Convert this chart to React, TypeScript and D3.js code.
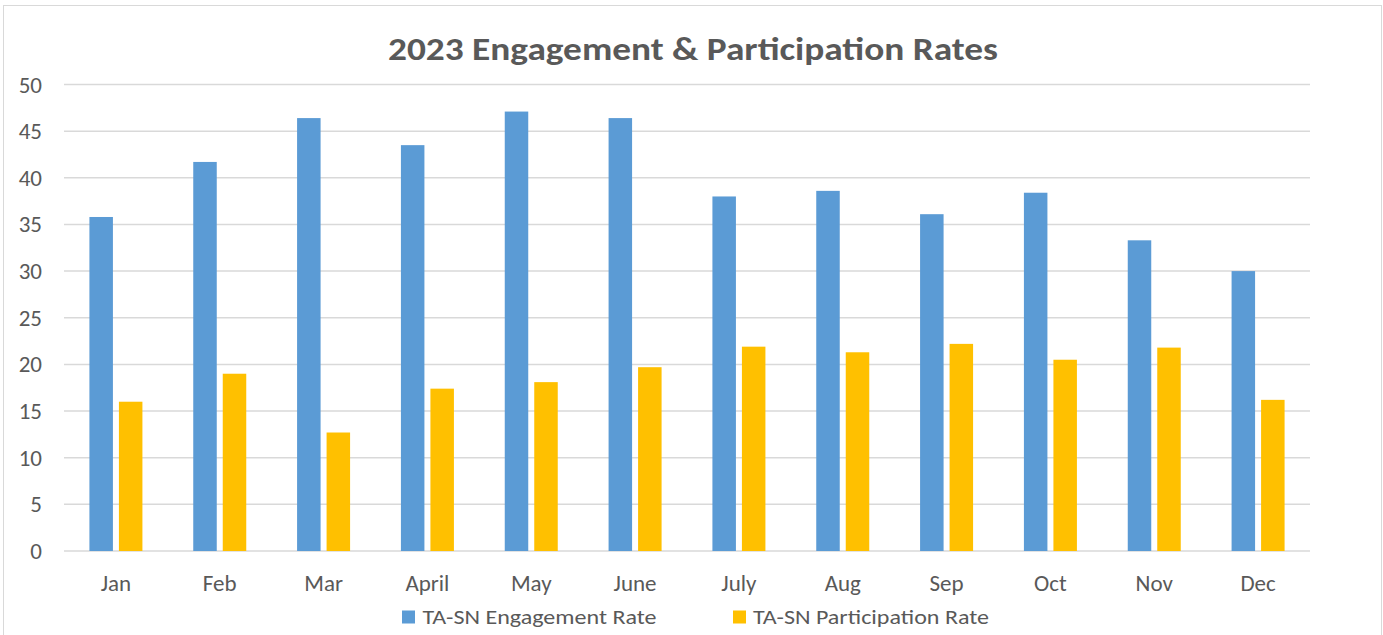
import React from "react";
import * as d3 from "d3";

const months = ["Jan", "Feb", "Mar", "April", "May", "June", "July", "Aug", "Sep", "Oct", "Nov", "Dec"];
const engagement = [35.8, 41.7, 46.4, 43.5, 47.1, 46.4, 38.0, 38.6, 36.1, 38.4, 33.3, 30.0];
const participation = [16.0, 19.0, 12.7, 17.4, 18.1, 19.7, 21.9, 21.3, 22.2, 20.5, 21.8, 16.2];
const yTicks = [0, 5, 10, 15, 20, 25, 30, 35, 40, 45, 50];
const seriesNames = ["TA-SN Engagement Rate", "TA-SN Participation Rate"];
const colors = ["#5B9BD5", "#FFC000"];

const W = 1383;
const H = 635;
const left = 64;
const right = 1310;
const top = 84.5;
const bottom = 551;
const FONT = "Carlito, Calibri, 'Open Sans', 'Liberation Sans', sans-serif";

export default function App() {
  const x = d3.scaleBand<string>().domain(months).range([left, right]).paddingInner(0).paddingOuter(0);
  const y = d3.scaleLinear().domain([0, 50]).range([bottom, top]);
  const bw = x.bandwidth();
  const barW = 23.5;
  const gap = 6;
  const offset = (bw - (barW * 2 + gap)) / 2;
  const series = [engagement, participation];
  const legendPos = [
    { sx: 402, tx: 422.5, len: 234 },
    { sx: 733, tx: 753, len: 236 },
  ];

  return (
    <div style={{ position: "absolute", left: 0, top: 0 }}>
      <svg width={W} height={H} style={{ display: "block" }}>
        <rect x={0} y={0} width={W} height={H} fill="#fff" />
        <rect x={3.5} y={5.5} width={W - 5} height={H + 10} fill="none" stroke="#d9d9d9" strokeWidth={1} />
        <text
          x={388}
          y={59.5}
          textLength={610}
          lengthAdjust="spacingAndGlyphs"
          fontFamily={FONT}
          fontWeight="bold"
          fontSize={33}
          fill="#595959"
        >
          2023 Engagement &amp; Participation Rates
        </text>
        {yTicks.map((t) => (
          <g key={t}>
            <line x1={left} x2={right} y1={y(t)} y2={y(t)} stroke="#d9d9d9" strokeWidth={1.5} />
            <text x={42} y={y(t) + 8} textAnchor="end" fontFamily={FONT} fontSize={23} fill="#595959">
              {t}
            </text>
          </g>
        ))}
        {months.map((m, i) => (
          <g key={m}>
            {series.map((s, j) => (
              <rect
                key={j}
                x={(x(m) as number) + offset + j * (barW + gap)}
                y={y(s[i])}
                width={barW}
                height={y(0) - y(s[i])}
                fill={colors[j]}
              />
            ))}
            <text
              x={(x(m) as number) + bw / 2}
              y={591}
              textAnchor="middle"
              fontFamily={FONT}
              fontSize={23}
              fill="#595959"
            >
              {m}
            </text>
          </g>
        ))}
        {seriesNames.map((n, j) => (
          <g key={n}>
            <rect x={legendPos[j].sx} y={610.5} width={13} height={13} fill={colors[j]} />
            <text
              x={legendPos[j].tx}
              y={624}
              textLength={legendPos[j].len}
              lengthAdjust="spacingAndGlyphs"
              fontFamily={FONT}
              fontSize={21}
              fill="#595959"
            >
              {n}
            </text>
          </g>
        ))}
      </svg>
    </div>
  );
}
